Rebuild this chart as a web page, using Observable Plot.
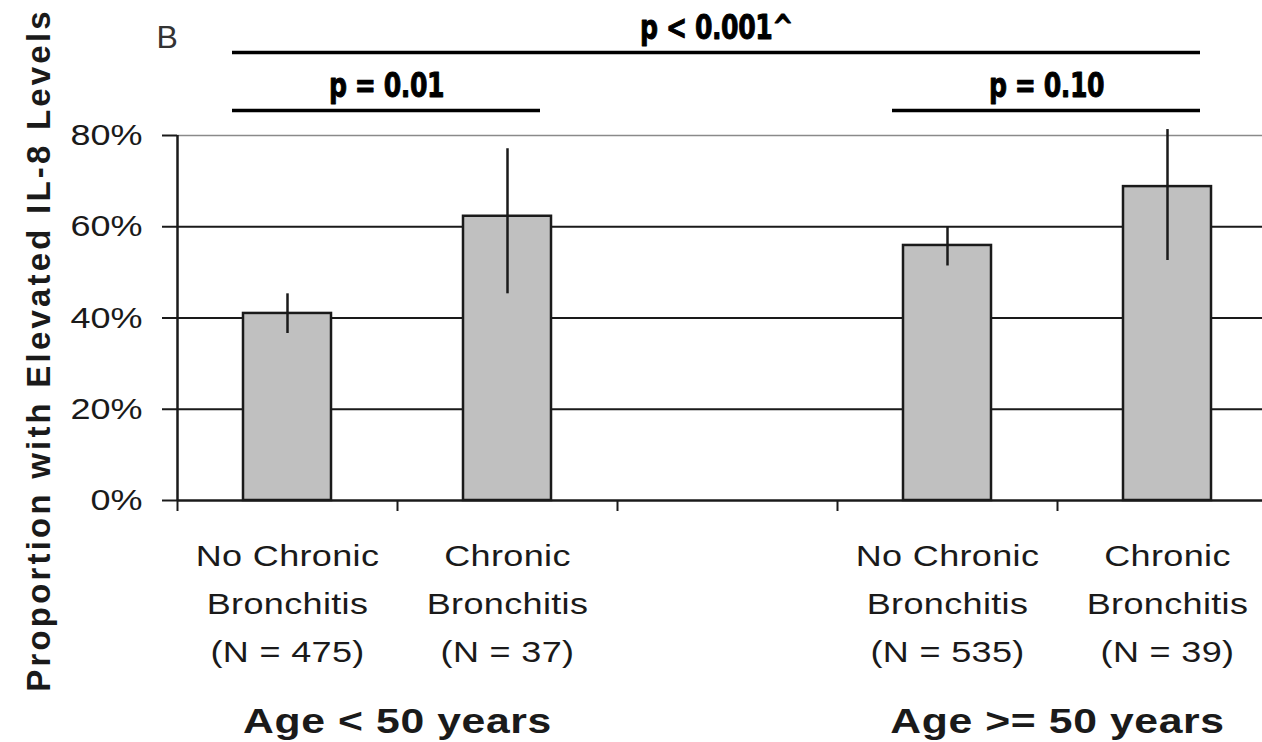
<!DOCTYPE html>
<html>
<head>
<meta charset="utf-8">
<script src="https://cdn.jsdelivr.net/npm/d3@7"></script>
<script src="https://cdn.jsdelivr.net/npm/@observablehq/plot@0.6"></script>
<style>
  html, body { margin: 0; padding: 0; background: #fff; }
  #chart svg { display: block; font-family: "Liberation Sans", Arial, sans-serif; }
</style>
</head>
<body>
<div id="chart"></div>
<script>
// ---- data ----
const groups = ["Age < 50 years", "Age >= 50 years"];
const categories = ["No Chronic\nBronchitis", "Chronic\nBronchitis", "No Chronic\nBronchitis", "Chronic\nBronchitis"];
const groupOf = [0, 0, 1, 1];
const counts = [475, 37, 535, 39];
const proportions = [0.41, 0.623, 0.559, 0.688];
const ciLow = [0.366, 0.453, 0.514, 0.526];
const ciHigh = [0.453, 0.771, 0.60, 0.813];
const yTicks = [0, 0.2, 0.4, 0.6, 0.8];
const pLabels = ["p = 0.01", "p = 0.10", "p < 0.001^"];
const pFrom = [0, 2, 0];
const pTo = [1, 3, 3];
const pLevel = [0.855, 0.855, 0.982];

// ---- derived table ----
const slotOf = (i) => groupOf[i] * 3 + (i % 2); // one empty slot between groups
const bars = categories.map((c, i) => ({
  label: `${c}\n(N = ${counts[i]})`,
  slot: slotOf(i),
  value: proportions[i],
  lo: ciLow[i],
  hi: ciHigh[i]
}));
const groupRows = groups.map((g, gi) => {
  const idx = groupOf.map((v, i) => v === gi ? i : -1).filter(i => i >= 0);
  const mid = d3.mean(idx, i => slotOf(i) + 0.5);
  return {text: g, x: mid};
});
const brackets = pLabels.map((t, i) => ({
  text: t,
  x1: slotOf(pFrom[i]) + 0.25,
  x2: slotOf(pTo[i]) + 0.65,
  y: pLevel[i]
}));

const ink = "#1a1a1a";

const chart = Plot.plot({
  width: 1262,
  height: 742,
  marginLeft: 177,
  marginRight: 0,
  marginTop: 135,
  marginBottom: 242,
  style: {fontFamily: "'Liberation Sans', Arial, sans-serif", color: ink, background: "#fff"},
  x: {type: "linear", domain: [0, 5], range: [177, 1277]},
  y: {domain: [0, 0.8]},
  marks: [
    Plot.ruleY([0.2, 0.4, 0.6], {stroke: ink, strokeWidth: 2}),
    Plot.ruleY([0.8], {stroke: "#8a8a8a", strokeWidth: 1.5}),
    Plot.axisY({ticks: yTicks, tickFormat: d3.format(".0%"), tickSize: 15, tickPadding: 20,
      fontSize: 30, label: null, stroke: ink, strokeWidth: 2, fill: ink, ariaDescription: "ytick"}),
    Plot.axisX({ticks: [0, 1, 2, 3, 4], tickSize: 11, tickFormat: () => "", label: null,
      stroke: ink, strokeWidth: 2}),
    Plot.ruleX([0], {stroke: ink, strokeWidth: 2.5}),
    Plot.ruleY([0], {stroke: ink, strokeWidth: 2.5}),
    Plot.rectY(bars, {x1: d => d.slot + 0.3, x2: d => d.slot + 0.7, y: "value",
      fill: "#c0c0c0", stroke: ink, strokeWidth: 2.5}),
    Plot.ruleX(bars, {x: d => d.slot + 0.5, y1: "lo", y2: "hi", stroke: ink, strokeWidth: 2.5}),
    Plot.ruleY(brackets, {x1: "x1", x2: "x2", y: "y", stroke: "#000", strokeWidth: 3.5}),
    Plot.text(brackets, {x: d => (d.x1 + d.x2) / 2, y: "y", text: "text", dy: -13, lineAnchor: "bottom",
      fontSize: 28, fontWeight: "bold", fill: "#000", stroke: "#000", strokeWidth: 0.8,
      fontFamily: "'DejaVu Sans', sans-serif", ariaDescription: "plabel"}),
    Plot.text(bars, {x: d => d.slot + 0.5, text: "label", frameAnchor: "bottom", lineAnchor: "middle",
      dy: 98, lineHeight: 1.6, fontSize: 30, fill: ink, ariaDescription: "cat"}),
    Plot.text(groupRows, {x: "x", text: "text", frameAnchor: "bottom", lineAnchor: "middle", dy: 221,
      fontSize: 35, fontWeight: "bold", fill: ink, ariaDescription: "group"}),
    Plot.text(["Proportion with Elevated IL-8 Levels"], {frameAnchor: "left", textAnchor: "middle",
      lineAnchor: "middle", dx: -138, dy: 32,
      rotate: -90, fontSize: 33, fontWeight: "bold", fill: ink, ariaDescription: "ytitle"}),
    Plot.text(["B"], {frameAnchor: "top-left", textAnchor: "start", lineAnchor: "top", dx: -21, dy: -110,
      fontSize: 32, fontWeight: 300, fill: "#333", ariaDescription: "panel"})
  ]
});

// the reference lettering is horizontally stretched: widen glyphs around their anchor
const textStyle = {
  ytick:  {ls: 0,   sx: 1.2,  sy: 1},
  cat:    {ls: 0.3, sx: 1.2,  sy: 1},
  group:  {ls: 0.5, sx: 1.22, sy: 1},
  ytitle: {ls: 3.2, sx: 1,    sy: 1},
  plabel: {ls: -0.5, sx: 0.9, sy: 1.2}
};
d3.select(chart).selectAll("g").each(function () {
  const g = d3.select(this);
  const key = g.attr("aria-description");
  if (!key || !(key in textStyle)) return;
  const s = textStyle[key];
  g.selectAll("text").each(function () {
    const t = d3.select(this);
    t.style("letter-spacing", s.ls + "px");
    if (s.sx !== 1 || s.sy !== 1) {
      const tr = t.attr("transform") || "";
      t.attr("transform", `${tr} scale(${s.sx},${s.sy})`);
    }
  });
});
document.getElementById("chart").appendChild(chart);
</script>
</body>
</html>
